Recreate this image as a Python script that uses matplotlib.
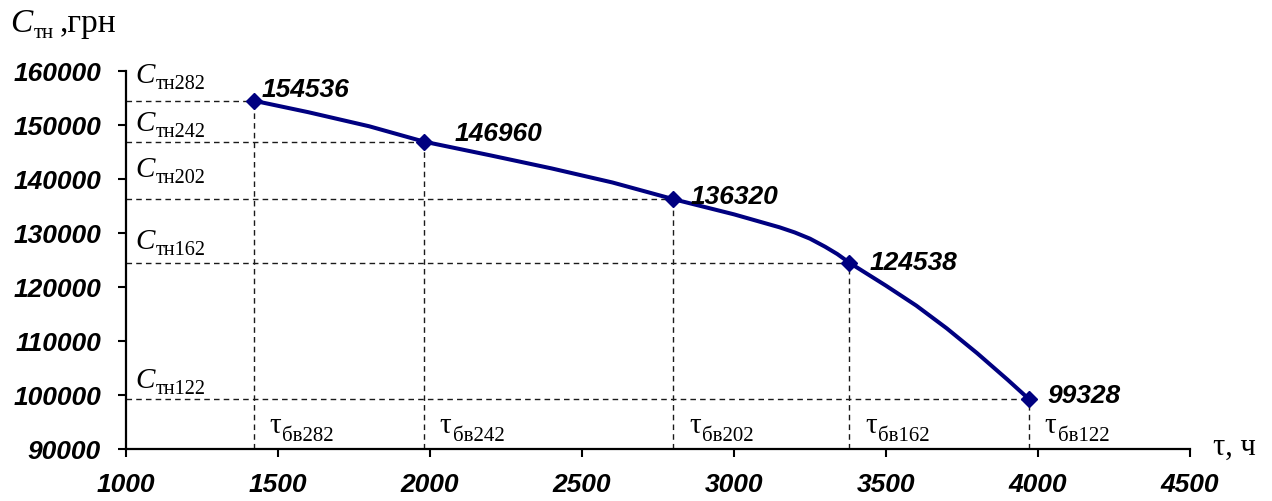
import matplotlib.pyplot as plt
import matplotlib as mpl

# --- data ---
tau_pts = [1420, 1980, 2800, 3380, 3970]
cost_pts = [154536, 146960, 136320, 124538, 99328]
cost_names = ["282", "242", "202", "162", "122"]
tau_names = ["282", "242", "202", "162", "122"]

# smoothed curve (markers included)
curve_x = [1420, 1600, 1800, 1980, 2200, 2400, 2600, 2800, 3000, 3100, 3150, 3200, 3250,
           3300, 3340, 3380, 3500, 3600, 3700, 3800, 3900, 3970]
curve_y = [154536, 152400, 149800, 146960, 144400, 142000, 139400, 136320, 133500, 131900,
           131100, 130150, 129000, 127500, 126150, 124538, 120300, 116600, 112400, 107800,
           102900, 99328]

x_ticks = [1000, 1500, 2000, 2500, 3000, 3500, 4000, 4500]
y_ticks = [90000, 100000, 110000, 120000, 130000, 140000, 150000, 160000]

plt.rcParams["font.family"] = ["Liberation Serif", "DejaVu Serif"]

fig = plt.figure(figsize=(12.72, 5.01), dpi=100)
ax = fig.add_axes([0.099, 0.103, 0.8365, 0.755])

ax.set_xlim(1000, 4500)
ax.set_ylim(90000, 160000)


def sub_label(xy, off, main, sub, size, subsize, italic, coords="data", sub_dy=-5):
    """main symbol plus a subscript placed right after it"""
    t = ax.annotate(main, xy=xy, xycoords=coords, xytext=off, textcoords="offset pixels",
                    ha="left", va="baseline", fontsize=size,
                    fontstyle="italic" if italic else "normal")
    ax.annotate(sub, xy=(1, 0), xycoords=t, xytext=(1, sub_dy), textcoords="offset pixels",
                ha="left", va="bottom", fontsize=subsize)
    return t


# guide lines
for t, c in zip(tau_pts, cost_pts):
    ax.plot([1000, t], [c, c], color="#1a1a1a", lw=1, ls=(0, (4, 3)), zorder=2)
    ax.plot([t, t], [90000, c], color="#1a1a1a", lw=1, ls=(0, (4, 3)), zorder=2)

ax.plot(curve_x, curve_y, color="#000080", lw=2.9, zorder=3,
        solid_capstyle="round", solid_joinstyle="round")
ax.plot(tau_pts, cost_pts, ls="none", marker="D", ms=8, color="#000080", zorder=4)

# value labels
lab_off = [(8, 11), (31, 8), (17, 2), (20, 0), (19, 3)]
for t, c, off in zip(tau_pts, cost_pts, lab_off):
    ax.annotate(f"{c}", xy=(t, c), xytext=off, textcoords="offset pixels",
                ha="left", va="center", fontsize=19, fontweight="bold",
                fontstyle="italic", family="Liberation Sans", color="black")

# C labels above horizontal guides (offset of the baseline of C above the line)
c_off = [18, 11, 22, 14, 11]
for c, name, dy in zip(cost_pts, cost_names, c_off):
    sub_label((1000, c), (9, dy), "C", "тн" + name, 21, 14.5, True)

# tau labels next to vertical guides
for t, name in zip(tau_pts, tau_names):
    sub_label((t, 90000), (16, 16), "τ", "бв" + name, 21, 15, False, sub_dy=-7)

ax.set_xticks(x_ticks)
ax.set_yticks(y_ticks)
ax.set_xticklabels([str(v) for v in x_ticks])
ax.set_yticklabels([str(v) for v in y_ticks])
for lbl in ax.get_xticklabels() + ax.get_yticklabels():
    lbl.set_family("Liberation Sans")
    lbl.set_fontweight("bold")
    lbl.set_fontstyle("italic")
    lbl.set_fontsize(19)

ax.tick_params(axis="both", direction="out", length=6, width=1.5, color="black")
ax.tick_params(axis="y", pad=12)
ax.tick_params(axis="x", pad=11)

for s in ["top", "right"]:
    ax.spines[s].set_visible(False)
for s in ["left", "bottom"]:
    ax.spines[s].set_linewidth(1.6)

# axis titles
ttl = sub_label((10 / 1272, 1 - 32 / 501), (0, 0), "C", "тн", 24, 15, True,
                coords="figure fraction", sub_dy=-4)
ax.annotate(",грн", xy=(10 / 1272, 1 - 32 / 501), xycoords="figure fraction",
            xytext=(50, 0), textcoords="offset pixels", ha="left", va="baseline",
            fontsize=24)
ax.annotate("τ, ч", xy=(1213 / 1272, 1 - 455 / 501), xycoords="figure fraction",
            ha="left", va="baseline", fontsize=22, annotation_clip=False)

fig.savefig("out.png", dpi=100)
